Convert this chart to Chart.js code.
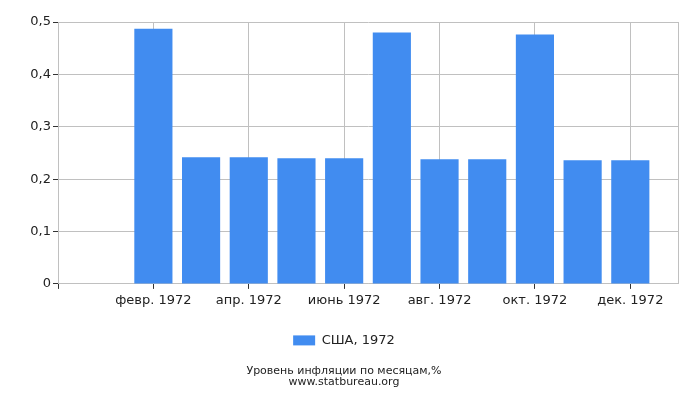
<!DOCTYPE html>
<html>
<head>
<meta charset="utf-8">
<script src="https://cdn.jsdelivr.net/npm/chart.js@4/dist/chart.umd.min.js"></script>
<style>
  html, body { margin: 0; padding: 0; background: #fff; }
  #wrap { width: 700px; height: 400px; }
</style>
</head>
<body>
<div id="wrap"><canvas id="chart" width="700" height="400"></canvas></div>
<script>
// months of 1972, padded with an empty slot on each side
const months = ['', 'янв. 1972', 'февр. 1972', 'март 1972', 'апр. 1972', 'май 1972', 'июнь 1972',
  'июль 1972', 'авг. 1972', 'сент. 1972', 'окт. 1972', 'нояб. 1972', 'дек. 1972', ''];
const inflation = [null, null, 0.487, 0.242, 0.242, 0.240, 0.240, 0.480, 0.238, 0.238, 0.476, 0.236, 0.236, null];
const yTicks = [0, 0.1, 0.2, 0.3, 0.4, 0.5];
const seriesName = 'США, 1972';
const footer = ['Уровень инфляции по месяцам,%', 'www.statbureau.org'];

const gridColor = '#c0c0c0';
const clear = 'rgba(0,0,0,0)';
const font = 'DejaVu Sans';
const last = months.length - 1;

const ctx = document.getElementById('chart').getContext('2d');
new Chart(ctx, {
  type: 'bar',
  data: {
    labels: months,
    datasets: [{
      label: seriesName,
      data: inflation,
      backgroundColor: '#418cf0',
      borderWidth: 0,
      barPercentage: 1,
      categoryPercentage: 0.8
    }]
  },
  options: {
    responsive: false,
    animation: false,
    layout: { padding: { left: 10, right: 22, top: 22, bottom: 12 } },
    plugins: {
      legend: {
        position: 'bottom',
        labels: {
          font: { family: font, size: 13 },
          color: '#222',
          boxWidth: 22,
          boxHeight: 10,
          padding: 12
        }
      },
      title: {
        display: true,
        position: 'bottom',
        text: footer,
        color: '#222',
        font: { family: font, size: 11, weight: 'normal', lineHeight: 1.05 },
        padding: { top: 8, bottom: 0 }
      },
      tooltip: { enabled: false }
    },
    scales: {
      x: {
        offset: false,
        grid: {
          offset: false,
          color: (c) => (c.index % 2 === 0 || c.index === last) ? gridColor : clear,
          tickColor: (c) => (c.index % 2 === 0 && c.index !== last) ? '#333' : clear,
          tickLength: 5
        },
        border: { color: gridColor },
        ticks: {
          autoSkip: false,
          maxRotation: 0,
          color: '#222',
          font: { family: font, size: 13 },
          padding: 4,
          callback: (v, i) => (i % 2 === 0 && i !== 0 && i !== last) ? months[i] : ''
        },
        afterFit: (s) => { s.height = 38; }
      },
      y: {
        min: 0,
        max: 0.5,
        grid: {
          color: gridColor,
          tickColor: '#333',
          tickLength: 5
        },
        border: { color: gridColor },
        afterBuildTicks: (s) => { s.ticks = yTicks.map(v => ({ value: v })); },
        ticks: {
          color: '#222',
          font: { family: font, size: 13 },
          padding: 2,
          callback: (v) => String(Math.round(v * 10) / 10).replace('.', ',')
        },
        afterFit: (s) => { s.width = 48; }
      }
    }
  }
});
</script>
</body>
</html>
